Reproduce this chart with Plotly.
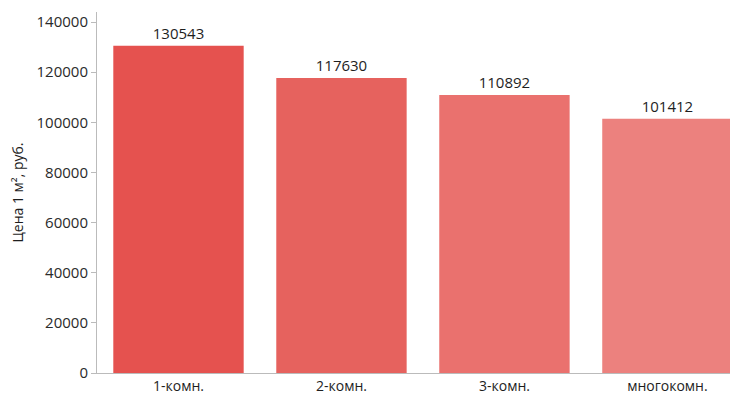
import plotly.graph_objects as go

categories = ["1-комн.", "2-комн.", "3-комн.", "многокомн."]
values = [130543, 117630, 110892, 101412]
colors = ["#e5524f", "#e6625e", "#ea716e", "#ec817e"]
y_ticks = [0, 20000, 40000, 60000, 80000, 100000, 120000, 140000]

fig = go.Figure(go.Bar(
    x=categories, y=values,
    marker=dict(color=colors, line=dict(width=0)),
    text=[str(v) for v in values],
    textposition="outside",
    textfont=dict(size=15, color="#1e1e1e"),
    cliponaxis=False,
))

# page body has an 8px default margin, so the figure is sized to fit the window
fig.update_layout(
    width=730, height=388,
    margin=dict(l=89, r=0, t=4, b=23),
    paper_bgcolor="white", plot_bgcolor="white",
    font=dict(family="Open Sans, sans-serif", size=14, color="#2a2a2a"),
    bargap=0.2,
    showlegend=False,
    xaxis=dict(
        range=[-0.5, 3.433],
        automargin=False,
        showline=True, linecolor="#bbbbbb", linewidth=1,
        ticks="", ticklabelstandoff=0,
        tickfont=dict(size=14, color="#1e1e1e"),
        showgrid=False, zeroline=False,
    ),
    yaxis=dict(
        range=[0, 144000],
        automargin=False,
        tickvals=y_ticks, ticktext=[str(t) for t in y_ticks],
        showline=True, linecolor="#bbbbbb", linewidth=1,
        ticks="outside", ticklen=5, tickcolor="#bbbbbb",
        tickfont=dict(size=15, color="#2a2a2a"),
        showgrid=False, zeroline=False,
        title=dict(text="Цена 1 м², руб.", font=dict(size=14, color="#1e1e1e")),
    ),
)

fig.write_html("out.html")
